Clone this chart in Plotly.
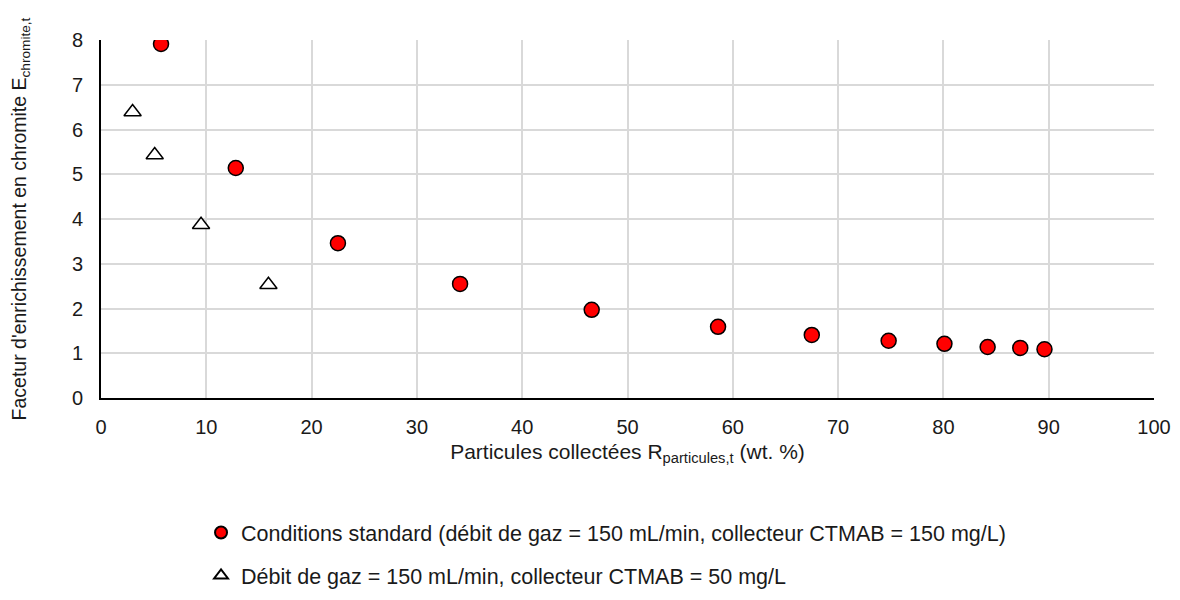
import plotly.graph_objects as go

std_x = [5.7, 12.8, 22.5, 34.1, 46.6, 58.6, 67.5, 74.8, 80.1, 84.2, 87.3, 89.6]
std_y = [7.91, 5.14, 3.46, 2.55, 1.97, 1.59, 1.41, 1.28, 1.21, 1.14, 1.12, 1.09]
low_x = [3.0, 5.1, 9.5, 15.9]
low_y = [6.39, 5.43, 3.87, 2.53]

name_std = "Conditions standard (débit de gaz = 150 mL/min, collecteur CTMAB = 150 mg/L)"
name_low = "Débit de gaz = 150 mL/min, collecteur CTMAB = 50 mg/L"

font = "Liberation Sans, Arial, sans-serif"

fig = go.Figure()
fig.add_trace(go.Scatter(
    x=std_x, y=std_y, mode="markers", name=name_std, legendgroup="a",
    marker=dict(symbol="circle", size=15, color="#ff0000", line=dict(color="black", width=1.5)),
))
fig.add_trace(go.Scatter(
    x=low_x, y=low_y, mode="markers", name=name_low, legendgroup="b",
    marker=dict(symbol="triangle-up", size=15, color="white", line=dict(color="black", width=1.5)),
))

fig.update_layout(
    width=1180, height=600,
    margin=dict(l=93, r=34, t=32, b=210),
    paper_bgcolor="white", plot_bgcolor="white",
    font=dict(family=font, size=20, color="#1a1a1a"),
    showlegend=True,
    legend=dict(
        x=0.095, y=0.16, xref="paper", yref="container", xanchor="left", yanchor="top",
        orientation="v", tracegroupgap=12, itemsizing="constant",
        font=dict(size=21.5, family=font),
    ),
    xaxis=dict(
        range=[0, 100], dtick=10, showgrid=True, gridcolor="#d9d9d9", gridwidth=1.5,
        showline=True, linecolor="black", linewidth=2, zeroline=False,
        ticks="", tickfont=dict(size=20), ticklabelstandoff=10, automargin=False,
        title=dict(text="Particules collectées R<sub>particules,t</sub> (wt. %)", font=dict(size=21), standoff=7),
    ),
    yaxis=dict(
        range=[0, 8], dtick=1, showgrid=True, gridcolor="#d9d9d9", gridwidth=1.5,
        showline=True, linecolor="black", linewidth=2, zeroline=False,
        ticks="", tickfont=dict(size=20), ticklabelstandoff=12, automargin=False,
        title=dict(text="Facetur d'enrichissement en chromite E<sub>chromite,t</sub>", font=dict(size=19.5), standoff=40),
    ),
)

fig.write_html("out.html")
